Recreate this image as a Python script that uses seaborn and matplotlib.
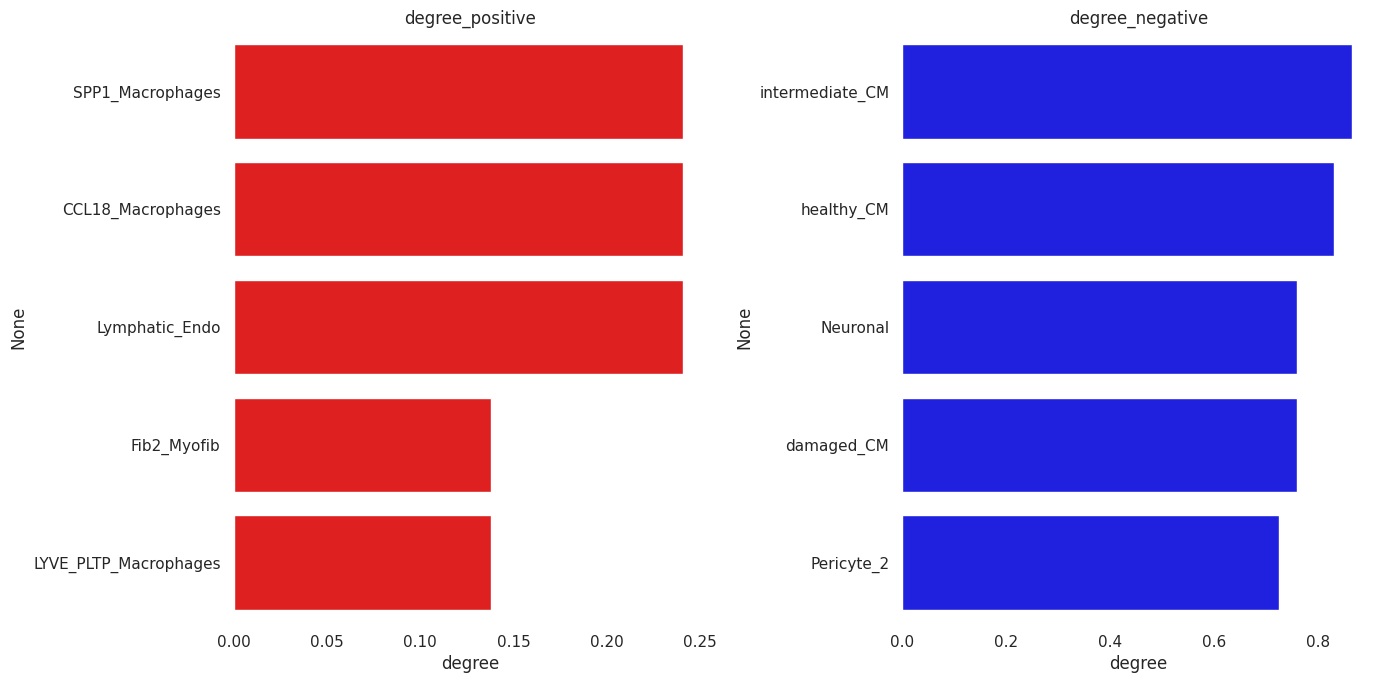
import seaborn as sns
import pandas as pd
import matplotlib.pyplot as plt

# data
pos_names = ['SPP1_Macrophages', 'CCL18_Macrophages', 'Lymphatic_Endo',
             'Fib2_Myofib', 'LYVE_PLTP_Macrophages']
pos_degree = [0.241, 0.241, 0.241, 0.138, 0.138]

neg_names = ['intermediate_CM', 'healthy_CM', 'Neuronal', 'damaged_CM', 'Pericyte_2']
neg_degree = [0.865, 0.830, 0.760, 0.760, 0.725]

df_pos = pd.DataFrame({'degree': pos_degree}, index=pos_names)
df_neg = pd.DataFrame({'degree': neg_degree}, index=neg_names)

sns.set_theme(style='white')

fig, axes = plt.subplots(1, 2, figsize=(13.84, 6.84), dpi=100)

sns.barplot(x=df_pos['degree'], y=df_pos.index, color='red', ax=axes[0])
axes[0].set_title('degree_positive')
sns.barplot(x=df_neg['degree'], y=df_neg.index, color='blue', ax=axes[1])
axes[1].set_title('degree_negative')

for ax in axes:
    ax.set_ylabel('None')
    ax.set_xlabel('degree')
    sns.despine(ax=ax, left=True, bottom=True)

fig.subplots_adjust(left=0.169, right=0.993, top=0.9525, bottom=0.0914, wspace=0.417)
fig.savefig('out.png')
